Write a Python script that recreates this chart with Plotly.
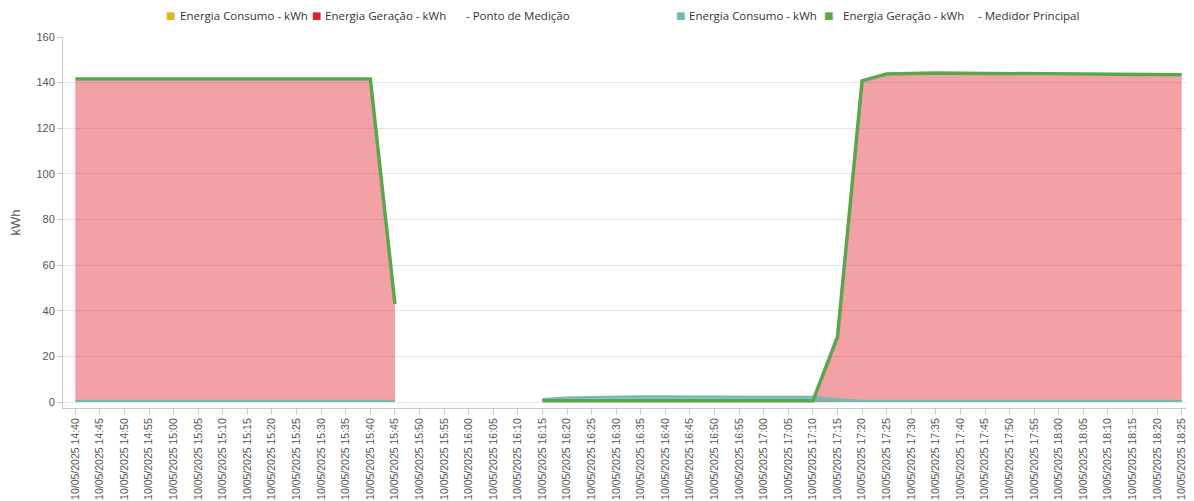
import plotly.graph_objects as go

times = ["14:40", "14:45", "14:50", "14:55", "15:00", "15:05", "15:10", "15:15", "15:20", "15:25",
         "15:30", "15:35", "15:40", "15:45", "15:50", "15:55", "16:00", "16:05", "16:10", "16:15",
         "16:20", "16:25", "16:30", "16:35", "16:40", "16:45", "16:50", "16:55", "17:00", "17:05",
         "17:10", "17:15", "17:20", "17:25", "17:30", "17:35", "17:40", "17:45", "17:50", "17:55",
         "18:00", "18:05", "18:10", "18:15", "18:20", "18:25"]
categories = ["10/05/2025 " + t for t in times]

N = None
# Ponto de Medição
ponto_consumo = [N] * 19 + [0.9] * 12 + [0.2] + [N] * 14
ponto_geracao = [140.8, 140.8, 140.7, 140.8, 140.8, 140.8, 140.7, 140.6, 140.7, 140.8, 140.8, 140.8, 140.8, 42.5,
                 N, N, N, N, N, N, N, N, N, N, N, N, N, N, N, N,
                 0.2, 28.0, 140.2, 143.1, 143.4, 143.5, 143.4, 143.3, 143.2, 143.1, 143.1, 143.0, 142.9,
                 142.8, 142.7, 142.8]
# Medidor Principal
medidor_consumo = [0.6] * 14 + [N] * 5 + [1.3, 2.0, 2.2, 2.5, 2.5, 2.5, 2.4, 2.5, 2.3, 2.1, 2.3, 2.3, 1.2] + [0.5] * 14
medidor_geracao = [141.6, 141.6, 141.4, 141.5, 141.6, 141.6, 141.5, 141.3, 141.4, 141.6, 141.6, 141.6, 141.6, 43.0,
                   N, N, N, N, N,
                   0.5, 0.5, 0.5, 0.5, 0.5, 0.5, 0.5, 0.5, 0.5, 0.5, 0.5, 0.5,
                   28.5, 140.8, 143.8, 144.1, 144.2, 144.1, 144.0, 143.9, 143.8, 143.8, 143.7, 143.6,
                   143.5, 143.4, 143.5]

legend_labels = ["Energia Consumo - kWh", "Energia Geração - kWh", "- Ponto de Medição",
                 "Energia Consumo - kWh", "Energia Geração - kWh", "- Medidor Principal"]

YELLOW = "#e3b31f"
RED = "#e0202e"
TEAL = "#74b8b3"
GREEN = "#5aa64c"


def segments(values):
    runs, cur = [], []
    for i, v in enumerate(values):
        if v is None:
            if cur:
                runs.append(cur)
            cur = []
        else:
            cur.append(i)
    if cur:
        runs.append(cur)
    return runs


def add_area(values, line, fillcolor):
    for run in segments(values):
        fig.add_trace(go.Scatter(x=[categories[i] for i in run], y=[values[i] for i in run],
                                 mode="lines", fill="tozeroy", line=line, fillcolor=fillcolor,
                                 showlegend=False, hoverinfo="skip"))


fig = go.Figure()
add_area(ponto_consumo, dict(color=YELLOW, width=1.5), "rgba(227,179,31,0.4)")
add_area(ponto_geracao, dict(color="rgba(0,0,0,0)", width=0), "rgba(226,30,45,0.42)")
add_area(medidor_consumo, dict(color=TEAL, width=2), "rgba(116,184,179,0.85)")
fig.add_trace(go.Scatter(x=categories, y=medidor_geracao, mode="lines",
                         line=dict(color=GREEN, width=3.5), showlegend=False, hoverinfo="skip"))

# legend (page is offset by the 8px body margin)
W, H = 1186, 493
ML, MT, MB, MR = 55, 29, 93, 0
PW = W - ML - MR
PH = H - MT - MB


def px_to_paper_x(px):
    return (px - 8 - ML) / PW


def py_to_paper_y(py):
    return 1 - (py - 8 - MT) / PH


legend_sym_x = [170, 316, None, 680, 828, None]
legend_text_x = [178, 323, 464, 687, 841, 976]
legend_cols = [YELLOW, RED, None, TEAL, GREEN, None]
annotations = []
ly = py_to_paper_y(15)
for lbl, sx, tx, col in zip(legend_labels, legend_sym_x, legend_text_x, legend_cols):
    if sx is not None:
        annotations.append(dict(x=px_to_paper_x(sx), y=ly, xref="paper", yref="paper",
                                text="■", showarrow=False, xanchor="center", yanchor="middle",
                                font=dict(family="DejaVu Sans", size=10, color=col)))
    annotations.append(dict(x=px_to_paper_x(tx), y=ly, xref="paper", yref="paper",
                            text=lbl, showarrow=False, xanchor="left", yanchor="middle",
                            font=dict(family="Open Sans, Noto Sans, sans-serif", size=11.5, color="#333")))

fig.update_layout(
    width=W, height=H,
    margin=dict(l=ML, r=MR, t=MT, b=MB),
    paper_bgcolor="white", plot_bgcolor="white",
    font=dict(family="Arial, Liberation Sans, sans-serif", size=11, color="#555"),
    showlegend=False,
    annotations=annotations,
)
fig.update_xaxes(type="category", categoryorder="array", categoryarray=categories,
                 range=[-0.5, 45.5], tickangle=-90, showgrid=False,
                 showline=True, linecolor="#c8c8c8", ticks="outside", ticklen=5, tickcolor="#c8c8c8",
                 tickfont=dict(family="Arial, Liberation Sans, sans-serif", size=10.5, color="#555"),
                 automargin=False)
fig.update_yaxes(range=[-2.63, 160], tickvals=[0, 20, 40, 60, 80, 100, 120, 140, 160],
                 showgrid=True, gridcolor="#e6e6e6", zeroline=False,
                 showline=True, linecolor="#c8c8c8", ticks="outside", ticklen=5, tickcolor="#c8c8c8",
                 tickfont=dict(family="Arial, Liberation Sans, sans-serif", size=11, color="#555"),
                 title=dict(text="kWh", font=dict(family="Arial, Liberation Sans, sans-serif", size=13, color="#555"),
                            standoff=12),
                 automargin=False)

fig.write_html("out.html")
